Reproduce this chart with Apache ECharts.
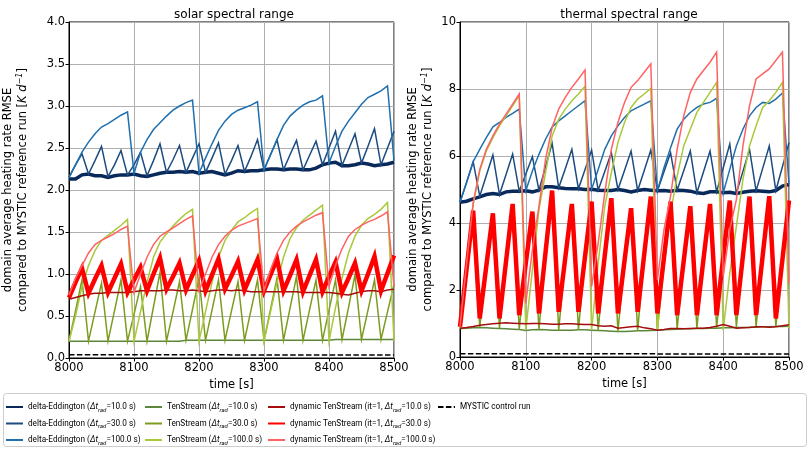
<!DOCTYPE html>
<html>
<head>
<meta charset="utf-8">
<script src="https://cdn.jsdelivr.net/npm/echarts@6/dist/echarts.min.js"></script>
<style>
  html, body { margin: 0; padding: 0; background: #fff; }
  #chart { width: 809px; height: 449px; }
</style>
</head>
<body>
<div id="chart"></div>
<script>
// time axis, 10 s output
const times = [8000,8010,8020,8030,8040,8050,8060,8070,8080,8090,
  8100,8110,8120,8130,8140,8150,8160,8170,8180,8190,
  8200,8210,8220,8230,8240,8250,8260,8270,8280,8290,
  8300,8310,8320,8330,8340,8350,8360,8370,8380,8390,
  8400,8410,8420,8430,8440,8450,8460,8470,8480,8490,8500];

const seriesNames = [
  'delta-Eddington (Δt_rad=10.0 s)', 'delta-Eddington (Δt_rad=30.0 s)', 'delta-Eddington (Δt_rad=100.0 s)',
  'TenStream (Δt_rad=10.0 s)', 'TenStream (Δt_rad=30.0 s)', 'TenStream (Δt_rad=100.0 s)',
  'dynamic TenStream (it=1, Δt_rad=10.0 s)', 'dynamic TenStream (it=1, Δt_rad=30.0 s)', 'dynamic TenStream (it=1, Δt_rad=100.0 s)',
  'MYSTIC control run'
];

// ---- solar spectral range ----
const solarDE10 = [2.13,2.13,2.18,2.19,2.17,2.17,2.15,2.17,2.18,2.18,
  2.19,2.17,2.16,2.18,2.20,2.21,2.21,2.22,2.21,2.22,
  2.20,2.21,2.22,2.20,2.18,2.20,2.23,2.22,2.23,2.23,
  2.24,2.25,2.25,2.24,2.25,2.25,2.24,2.24,2.26,2.30,
  2.32,2.33,2.29,2.29,2.30,2.32,2.31,2.29,2.30,2.31,2.33];
const solarDE30 = [2.15,2.30,2.43,2.19,2.35,2.52,2.16,2.30,2.47,2.18,
  2.30,2.45,2.17,2.35,2.55,2.21,2.36,2.53,2.21,2.38,
  2.55,2.21,2.38,2.56,2.19,2.35,2.53,2.22,2.40,2.60,
  2.24,2.42,2.60,2.24,2.42,2.59,2.24,2.41,2.58,2.30,
  2.50,2.70,2.29,2.48,2.67,2.32,2.52,2.73,2.30,2.50,2.70];
const solarDE100 = [2.15,2.30,2.45,2.57,2.67,2.75,2.79,2.84,2.89,2.93,
  2.20,2.45,2.60,2.72,2.80,2.88,2.95,3.00,3.04,3.07,
  2.20,2.38,2.55,2.71,2.82,2.90,2.95,2.98,3.01,3.05,
  2.24,2.42,2.60,2.77,2.88,2.95,3.01,3.05,3.07,3.12,
  2.32,2.52,2.70,2.82,2.92,3.02,3.10,3.14,3.18,3.24,2.35];
const solarTS10 = [0.20,0.20,0.20,0.20,0.20,0.20,0.20,0.20,0.20,0.20,
  0.20,0.20,0.20,0.20,0.20,0.20,0.20,0.20,0.21,0.21,
  0.21,0.21,0.21,0.21,0.21,0.21,0.21,0.21,0.21,0.21,
  0.21,0.21,0.21,0.21,0.21,0.21,0.21,0.21,0.21,0.21,
  0.21,0.22,0.22,0.22,0.22,0.22,0.22,0.22,0.22,0.22,0.22];
const solarTS30 = [0.20,0.56,0.93,0.20,0.55,0.89,0.20,0.56,0.93,0.20,
  0.52,0.85,0.20,0.61,1.02,0.20,0.55,0.91,0.21,0.58,
  0.95,0.21,0.57,0.93,0.21,0.56,0.91,0.21,0.57,0.93,
  0.21,0.58,0.95,0.21,0.59,0.97,0.21,0.57,0.93,0.21,
  0.57,0.93,0.22,0.60,0.99,0.22,0.57,0.93,0.22,0.55,0.88];
const solarTS100 = [0.20,0.50,0.85,1.10,1.28,1.40,1.46,1.52,1.58,1.65,
  0.20,0.55,0.90,1.20,1.38,1.48,1.57,1.65,1.72,1.77,
  0.20,0.55,0.90,1.20,1.40,1.52,1.62,1.67,1.73,1.78,
  0.20,0.55,0.90,1.20,1.42,1.55,1.64,1.70,1.76,1.82,
  0.20,0.60,0.95,1.25,1.45,1.58,1.66,1.71,1.77,1.85,0.20];
const solarDyn10 = [0.70,0.72,0.74,0.76,0.77,0.77,0.78,0.78,0.78,0.78,
  0.79,0.80,0.80,0.80,0.80,0.81,0.81,0.80,0.80,0.81,
  0.80,0.79,0.80,0.81,0.81,0.80,0.81,0.80,0.79,0.79,
  0.79,0.79,0.79,0.79,0.79,0.79,0.78,0.78,0.78,0.78,
  0.78,0.77,0.76,0.75,0.77,0.79,0.80,0.80,0.79,0.81,0.82];
const solarDyn30 = [0.72,0.90,1.07,0.77,0.94,1.10,0.78,0.95,1.12,0.78,
  0.93,1.08,0.80,1.00,1.19,0.82,0.97,1.13,0.81,0.99,
  1.16,0.80,0.99,1.18,0.82,0.98,1.15,0.81,0.99,1.17,
  0.80,0.99,1.18,0.80,0.98,1.17,0.79,0.98,1.17,0.79,
  0.97,1.14,0.78,0.95,1.13,0.80,1.00,1.21,0.80,1.01,1.22];
const solarDyn100 = [0.75,0.95,1.10,1.25,1.35,1.40,1.44,1.48,1.53,1.57,
  0.78,1.00,1.20,1.35,1.45,1.50,1.55,1.60,1.65,1.69,
  0.80,1.00,1.20,1.35,1.45,1.52,1.57,1.60,1.63,1.66,
  0.80,1.05,1.25,1.40,1.50,1.57,1.62,1.66,1.70,1.73,
  0.85,1.10,1.30,1.45,1.53,1.58,1.62,1.65,1.69,1.74,0.85];
const solarMystic = [0.04,0.04,0.04,0.04,0.04,0.04,0.04,0.04,0.04,0.04,
  0.04,0.04,0.04,0.04,0.04,0.04,0.04,0.04,0.04,0.04,
  0.04,0.04,0.04,0.04,0.04,0.035,0.035,0.035,0.035,0.035,
  0.035,0.035,0.035,0.035,0.035,0.035,0.035,0.035,0.035,0.035,
  0.035,0.035,0.035,0.035,0.035,0.035,0.035,0.035,0.035,0.035,0.035];

// ---- thermal spectral range ----
const thermDE10 = [4.62,4.65,4.72,4.78,4.85,4.88,4.85,4.93,4.95,4.95,
  4.96,4.93,4.98,5.08,5.08,5.05,5.03,5.02,5.02,5.00,
  5.01,4.98,4.97,4.97,5.00,4.97,4.93,4.97,5.00,4.98,
  4.96,4.97,4.95,4.98,4.97,4.95,4.90,4.88,4.93,4.93,
  4.90,4.92,4.88,4.92,4.95,4.96,4.95,4.93,4.97,5.10,5.15];
const thermDE30 = [4.62,5.22,5.83,4.80,5.42,6.03,4.85,5.45,6.06,4.95,
  5.46,5.98,4.98,5.68,6.38,5.05,5.62,6.20,5.02,5.60,
  6.18,4.98,5.54,6.10,5.00,5.57,6.15,4.97,5.57,6.18,
  4.96,5.53,6.10,4.98,5.56,6.15,4.90,5.52,6.15,4.93,
  5.64,6.36,4.88,5.54,6.20,4.96,5.63,6.30,4.97,5.68,6.40];
const thermDE100 = [4.62,5.20,5.83,6.20,6.55,6.87,7.00,7.15,7.27,7.40,
  4.96,5.55,6.05,6.50,6.87,7.05,7.20,7.35,7.50,7.65,
  5.01,5.60,6.20,6.60,6.90,7.15,7.35,7.45,7.55,7.65,
  4.96,5.65,6.25,6.80,7.10,7.30,7.45,7.55,7.60,7.72,
  4.90,5.60,6.30,6.80,7.20,7.45,7.60,7.57,7.70,7.88,5.15];
const thermTS10 = [0.85,0.86,0.87,0.88,0.87,0.86,0.85,0.84,0.83,0.82,
  0.79,0.81,0.82,0.81,0.80,0.80,0.80,0.80,0.81,0.81,
  0.80,0.79,0.78,0.77,0.76,0.76,0.77,0.78,0.78,0.79,
  0.80,0.81,0.82,0.83,0.84,0.84,0.85,0.85,0.86,0.86,
  0.87,0.87,0.88,0.88,0.89,0.89,0.90,0.90,0.91,0.91,0.92];
const thermTS30 = [0.85,2.60,4.34,0.88,2.69,4.26,0.86,2.83,4.54,0.82,
  2.77,4.31,0.82,3.10,4.94,0.80,2.93,4.54,0.81,2.97,
  4.61,0.79,2.99,4.71,0.76,2.84,4.41,0.78,3.04,4.76,
  0.80,2.94,4.61,0.83,2.84,4.47,0.85,2.88,4.54,0.86,
  2.93,4.64,0.88,2.99,4.76,0.89,2.99,4.77,0.91,2.88,4.64];
const thermTS100 = [0.85,2.75,4.55,5.55,6.15,6.55,6.90,7.20,7.50,7.80,
  0.80,2.60,4.40,5.50,6.60,7.10,7.40,7.65,7.85,8.08,
  0.80,2.80,4.50,5.50,6.40,7.00,7.45,7.70,7.85,8.02,
  0.80,2.70,4.30,5.40,6.30,6.80,7.30,7.60,7.90,8.20,
  0.80,2.50,3.90,5.30,6.30,6.90,7.45,7.65,7.90,8.20,0.85];
const thermDyn10 = [0.86,0.88,0.91,0.95,0.97,0.99,1.01,1.02,1.01,1.00,
  0.99,1.00,1.00,0.99,0.98,0.98,0.99,0.99,0.98,0.97,
  0.97,0.93,0.92,0.93,0.86,0.88,0.90,0.92,0.87,0.84,
  0.80,0.82,0.85,0.85,0.84,0.85,0.86,0.86,0.88,0.92,
  0.97,0.92,0.86,0.87,0.88,0.90,0.90,0.89,0.90,0.93,0.96];
const thermDyn30 = [0.90,2.63,4.37,1.15,2.72,4.29,1.15,2.86,4.57,1.25,
  2.80,4.34,1.30,3.13,4.97,1.35,2.96,4.57,1.35,3.00,
  4.64,1.30,3.02,4.74,1.30,2.87,4.44,1.35,3.07,4.79,
  1.30,2.97,4.64,1.25,2.87,4.50,1.25,2.91,4.57,1.25,
  2.96,4.67,1.25,3.02,4.79,1.25,3.02,4.80,1.15,2.91,4.67];
const thermDyn100 = [0.90,2.80,4.60,5.60,6.20,6.60,6.95,7.25,7.55,7.85,
  1.60,3.20,4.50,5.90,6.85,7.40,7.75,8.05,8.30,8.57,
  2.10,3.40,4.90,6.20,7.00,7.60,8.05,8.25,8.50,8.75,
  2.30,3.80,4.80,6.20,7.20,7.90,8.30,8.55,8.80,9.10,
  2.40,3.80,4.70,6.30,7.50,8.30,8.45,8.60,8.85,9.10,2.20];
const thermMystic = [0.10,0.10,0.10,0.10,0.10,0.10,0.10,0.10,0.10,0.10,
  0.10,0.10,0.10,0.10,0.10,0.10,0.10,0.10,0.10,0.10,
  0.10,0.10,0.10,0.10,0.10,0.10,0.10,0.10,0.10,0.10,
  0.09,0.09,0.09,0.09,0.09,0.09,0.09,0.09,0.09,0.09,
  0.09,0.09,0.09,0.09,0.09,0.09,0.09,0.09,0.09,0.09,0.09];

const solarData = [solarDE10, solarDE30, solarDE100, solarTS10, solarTS30, solarTS100,
  solarDyn10, solarDyn30, solarDyn100, solarMystic];
const thermData = [thermDE10, thermDE30, thermDE100, thermTS10, thermTS30, thermTS100,
  thermDyn10, thermDyn30, thermDyn100, thermMystic];

const colors = ['#08295a', '#1c4b80', '#1f6fae', '#5c873a', '#7b9c1e', '#a9c83a',
  '#a50d0d', '#ff0000', '#ff6262', '#000000'];
const widths = [3.5, 1.5, 1.5, 1.5, 1.5, 1.5, 1.5, 4.5, 1.5, 1.5];

const FONT = 'DejaVu Sans';
const LEGEND_FONT = 'Roboto';

function pairs(arr) {
  return times.map((t, i) => [t, arr[i]]);
}

function makeSeries(dataList, idx) {
  return dataList.map((arr, k) => ({
    name: seriesNames[k],
    type: 'line',
    xAxisIndex: idx,
    yAxisIndex: idx,
    data: pairs(arr),
    symbol: 'none',
    clip: true,
    lineStyle: {
      color: colors[k],
      width: widths[k],
      type: k === 9 ? [5.5, 2.4] : 'solid',
      join: 'miter'
    },
    itemStyle: { color: colors[k] }
  }));
}

const yName = '{n|domain average heating rate RMSE}\n{n|compared to MYSTIC reference run [}{i|K d}{sup|−1}{n|]}';
const yNameStyle = {
  fontSize: 11.5, color: '#000', fontFamily: FONT, lineHeight: 15,
  rich: {
    n: { fontSize: 11.5, color: '#000', fontFamily: FONT },
    i: { fontSize: 11.5, color: '#000', fontFamily: FONT, fontStyle: 'italic' },
    sup: { fontSize: 8, color: '#000', fontFamily: FONT, fontStyle: 'italic', verticalAlign: 'top' }
  }
};

function xAx(gi) {
  return {
    gridIndex: gi, type: 'value', min: 8000, max: 8500, interval: 100,
    name: 'time [s]', nameLocation: 'middle', nameGap: 20,
    nameTextStyle: { fontSize: 11.5, color: '#000', fontFamily: FONT },
    axisLine: { onZero: false, lineStyle: { color: '#000', width: 1 } },
    axisTick: { show: true, length: 3.5, lineStyle: { color: '#000' } },
    axisLabel: { fontSize: 11.5, color: '#000', fontFamily: FONT, margin: 4,
      formatter: v => String(v) },
    splitLine: { show: true, lineStyle: { color: '#b0b0b0', width: 1 } }
  };
}

function yAx(gi, max, interval, digits, gap) {
  return {
    gridIndex: gi, type: 'value', min: 0, max: max, interval: interval,
    name: yName, nameLocation: 'middle', nameRotate: 90, nameGap: gap,
    nameTextStyle: yNameStyle,
    axisLine: { show: true, lineStyle: { color: '#000', width: 1 } },
    axisTick: { show: true, length: 3.5, lineStyle: { color: '#000' } },
    axisLabel: { fontSize: 11.5, color: '#000', fontFamily: FONT, margin: 4,
      formatter: v => v.toFixed(digits) },
    splitLine: { show: true, lineStyle: { color: '#b0b0b0', width: 1 } }
  };
}

function legendFormatter(name) {
  return name.replace('Δt_rad', '{i|Δt}{sub|rad}');
}

const legendText = {
  fontSize: 8.2, color: '#000', fontFamily: LEGEND_FONT, lineHeight: 12,
  rich: {
    i: { fontSize: 8.2, fontStyle: 'italic', color: '#000', fontFamily: LEGEND_FONT, lineHeight: 12 },
    sub: { fontSize: 6, fontStyle: 'italic', color: '#000', fontFamily: LEGEND_FONT, lineHeight: 12, verticalAlign: 'bottom' }
  }
};

function legendCol(names, left) {
  return {
    data: names, left: left, top: 401, orient: 'vertical',
    itemWidth: 17, itemHeight: 10, itemGap: 4.5, padding: 0,
    selectedMode: false,
    itemStyle: { opacity: 0 },
    formatter: legendFormatter,
    textStyle: legendText
  };
}

const chart = echarts.init(document.getElementById('chart'), null, { renderer: 'canvas' });

const option = {
  animation: false,
  backgroundColor: '#fff',
  textStyle: { fontFamily: FONT },
  title: [
    { text: 'solar spectral range', left: 229, top: 4, textAlign: 'center',
      textStyle: { fontSize: 12, fontWeight: 'normal', color: '#000', fontFamily: FONT } },
    { text: 'thermal spectral range', left: 624, top: 4, textAlign: 'center',
      textStyle: { fontSize: 12, fontWeight: 'normal', color: '#000', fontFamily: FONT } }
  ],
  grid: [
    { left: 65, top: 22, width: 329, height: 336, show: true, borderColor: '#000', borderWidth: 1, backgroundColor: 'transparent' },
    { left: 460, top: 22, width: 329, height: 335, show: true, borderColor: '#000', borderWidth: 1, backgroundColor: 'transparent' }
  ],
  xAxis: [xAx(0), xAx(1)],
  yAxis: [yAx(0, 4, 0.5, 1, 38), yAx(1, 10, 2, 0, 24)],
  legend: [
    legendCol(seriesNames.slice(0, 3), 5),
    legendCol(seriesNames.slice(3, 6), 144),
    legendCol(seriesNames.slice(6, 9), 267),
    legendCol(seriesNames.slice(9, 10), 437)
  ],
  graphic: [{
    type: 'rect', z: -1,
    shape: { x: 3.5, y: 393.5, width: 803, height: 53, r: 3 },
    style: { fill: '#fff', stroke: '#cccccc', lineWidth: 1 }
  }],
  series: makeSeries(solarData, 0).concat(makeSeries(thermData, 1))
};

chart.setOption(option);
</script>
</body>
</html>
